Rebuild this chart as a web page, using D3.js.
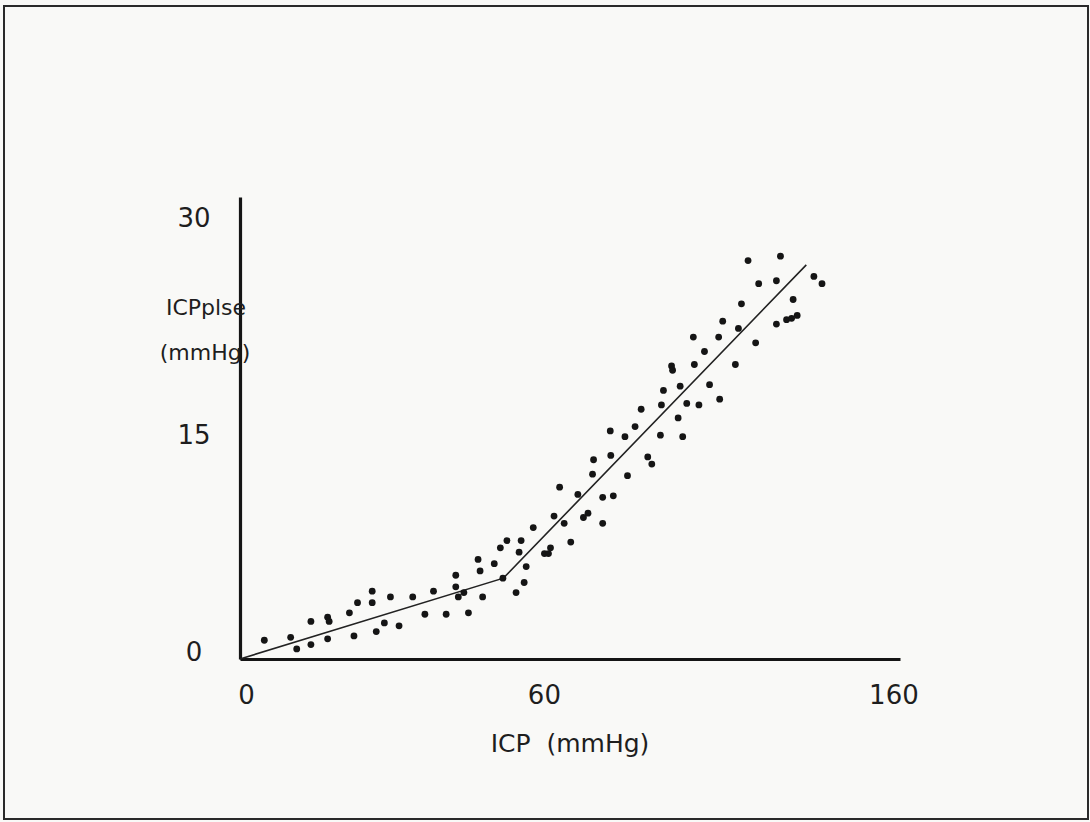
<!DOCTYPE html>
<html>
<head>
<meta charset="utf-8">
<script src="https://cdn.jsdelivr.net/npm/d3@7"></script>
<style>
  html, body { margin: 0; padding: 0; background: #f9f9f7; }
  svg { display: block; }
  text { font-family: "DejaVu Sans", "Liberation Sans", sans-serif; fill: #1e1e1e; }
</style>
</head>
<body>
<div class="chart"></div>
<script>
let ink = "#151515";
let paper = "#f9f9f7";

// ICP (mmHg) vs ICP pulse amplitude (mmHg)
const icp = [
  4.8, 10.0, 11.2, 14.0, 14.0, 17.3, 17.6, 17.3, 21.6, 22.5, 23.2, 26.1, 26.1, 26.9, 28.5,
  29.7, 31.4, 34.1, 36.5, 38.2, 40.7, 42.6, 42.6, 43.1, 44.2, 45.1, 47.4, 47.9, 50.2, 51.9,
  54.5, 56.1, 56.5, 47.0, 51.4, 52.7, 55.1, 55.5, 57.9, 60.1, 60.9, 61.3, 62.0, 63.1, 64.0,
  65.3, 66.7, 67.8, 68.7, 71.6, 71.6, 73.7, 69.6, 69.8, 73.2, 76.5, 80.5, 81.3, 73.1, 76.0,
  78.0, 79.2, 83.0, 83.2, 83.6, 85.2, 85.4, 86.5, 87.4, 86.9, 88.2, 89.7, 89.5, 90.6, 91.7,
  92.7, 94.5, 94.7, 95.3, 97.8, 98.4, 99.0, 101.8, 102.4, 100.3, 105.9, 106.7, 105.9, 107.9,
  108.9, 110.0, 109.2, 113.3, 114.9
];
const pulse = [
  1.3, 1.5, 0.7, 2.6, 1.0, 2.9, 2.6, 1.4, 3.2, 1.6, 3.9, 4.7, 3.9, 1.9, 2.5,
  4.3, 2.3, 4.3, 3.1, 4.7, 3.1, 5.8, 5.0, 4.3, 4.6, 3.2, 6.1, 4.3, 6.6, 5.6,
  4.6, 5.3, 6.4, 6.9, 7.7, 8.2, 7.4, 8.2, 9.1, 7.3, 7.3, 7.7, 9.9, 11.9, 9.4,
  8.1, 11.4, 9.8, 10.1, 9.4, 11.2, 11.3, 12.8, 13.8, 14.1, 12.7, 14.0, 13.5, 15.8, 15.4,
  16.1, 17.3, 15.5, 17.6, 18.6, 20.3, 20.0, 16.7, 15.4, 18.9, 17.7, 20.4, 22.3, 17.6, 21.3,
  19.0, 22.3, 18.0, 23.4, 20.4, 22.9, 24.6, 21.9, 26.0, 27.6, 26.2, 27.9, 23.2, 23.5,
  23.6, 23.8, 24.9, 26.5, 26.0
];

// two-segment fit: origin, break point, end
const fitIcp = [0, 52.0, 111.8];
const fitPulse = [0, 5.6, 27.3];

const xTickValues = [0, 60, 129];
const xTickLabels = ["0", "60", "160"];
const yTickValues = [0, 15, 30];
const yTickLabels = ["0", "15", "30"];

const width = 1090;
const height = 822;

const svg = d3.select(".chart")
  .append("svg")
  .attr("width", width)
  .attr("height", height);

// scanned page frame
svg.append("rect")
  .attr("x", 4)
  .attr("y", 6)
  .attr("width", 1084)
  .attr("height", 813)
  .attr("fill", paper)
  .attr("stroke", "#2a2a2a")
  .attr("stroke-width", 2);

//scales
const xScale = d3.scaleLinear()
  .domain([0, 130.3])
  .range([240, 900]);

const yScale = d3.scaleLinear()
  .domain([0, 32])
  .range([659, 197]);

//X axis
const xAxis = svg.append("g")
  .attr("class", "xaxis")
  .attr("transform", `translate(0, ${yScale(0)})`)
  .call(d3.axisBottom(xScale)
    .tickValues(xTickValues)
    .tickSize(0)
    .tickFormat((d, i) => xTickLabels[i])
  );

xAxis.select(".domain")
  .attr("stroke", ink)
  .attr("stroke-width", 3.2);

xAxis.selectAll(".tick text")
  .attr("y", 36)
  .attr("dy", "0.35em")
  .attr("x", (d, i) => (i == 0 ? 6 : 0))
  .style("font-size", "26px")
  .style("fill", "#1e1e1e");

//Y axis
const yAxis = svg.append("g")
  .attr("class", "yaxis")
  .attr("transform", `translate(${xScale(0)}, 0)`)
  .call(d3.axisLeft(yScale)
    .tickValues(yTickValues)
    .tickSize(0)
    .tickFormat((d, i) => yTickLabels[i])
  );

yAxis.select(".domain")
  .attr("stroke", ink)
  .attr("stroke-width", 3.2);

yAxis.selectAll(".tick text")
  .attr("x", -46)
  .attr("dy", "0.35em")
  .attr("y", -8)
  .attr("text-anchor", "middle")
  .style("font-size", "26px")
  .style("fill", "#1e1e1e");

// axis titles
svg.append("text")
  .attr("x", 570)
  .attr("y", 752)
  .attr("text-anchor", "middle")
  .style("font-size", "25px")
  .style("white-space", "pre")
  .text("ICP  (mmHg)");

svg.append("text")
  .attr("x", 206)
  .attr("y", 315)
  .attr("text-anchor", "middle")
  .style("font-size", "22px")
  .text("ICPplse");

svg.append("text")
  .attr("x", 205)
  .attr("y", 360)
  .attr("text-anchor", "middle")
  .style("font-size", "22px")
  .text("(mmHg)");

// fitted line
const fit = fitIcp.map((d, i) => ({ x: d, y: fitPulse[i] }));

svg.append("path")
  .datum(fit)
  .attr("fill", "none")
  .attr("stroke", "#222")
  .attr("stroke-width", 1.6)
  .attr("d", d3.line()
    .x(d => xScale(d.x))
    .y(d => yScale(d.y))
  );

// draw dots
const points = icp.map((d, i) => ({ x: d, y: pulse[i] }));

svg.selectAll(".dot")
  .data(points)
  .enter()
  .append("circle")
  .attr("class", "dot")
  .attr("cx", d => xScale(d.x))
  .attr("cy", d => yScale(d.y))
  .attr("r", 3.4)
  .attr("fill", ink);
</script>
</body>
</html>
